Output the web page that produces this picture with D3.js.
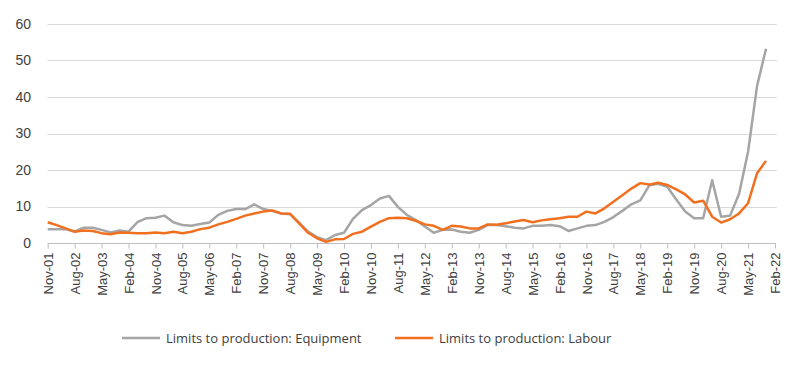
<!DOCTYPE html>
<html><head><meta charset="utf-8">
<script src="https://cdn.jsdelivr.net/npm/d3@7"></script>
<style>body{margin:0;background:#fff;} svg{display:block;}</style>
</head><body>
<svg id="c" width="800" height="368"></svg>
<script>
// Quarterly data, Nov-01 ... Nov-21
const startYear = 2001, startMonth = 10; // Nov (0-based)
const equipment = [3.8,3.8,3.8,3.1,4.2,4.2,3.6,2.9,3.4,3.1,5.7,6.8,6.9,7.5,5.7,4.9,4.7,5.2,5.6,7.7,8.8,9.3,9.3,10.6,9.3,8.8,8.1,7.9,5.6,3.1,1.6,0.8,2.2,2.8,6.6,9.0,10.4,12.2,12.9,9.9,7.7,6.3,4.5,2.8,3.6,3.7,3.1,2.8,3.6,4.9,4.9,4.6,4.2,4.0,4.7,4.7,4.9,4.6,3.3,4.0,4.7,4.9,5.8,7.1,8.8,10.6,11.7,15.8,16.2,15.4,11.9,8.6,6.8,6.8,17.2,7.2,7.5,13.5,25,43,53.2];
const labour = [5.7,4.9,4.0,3.1,3.4,3.3,2.7,2.4,2.9,2.8,2.7,2.7,2.9,2.7,3.1,2.7,3.1,3.8,4.2,5.1,5.8,6.6,7.5,8.1,8.6,8.9,8.1,8.0,5.4,2.8,1.3,0.3,1.0,1.1,2.5,3.1,4.5,5.8,6.8,6.9,6.8,6.1,5.1,4.7,3.6,4.7,4.5,4.0,4.0,5.1,5.0,5.4,5.9,6.3,5.7,6.2,6.5,6.8,7.2,7.2,8.6,8.1,9.5,11.3,13.1,14.9,16.4,16.0,16.5,15.9,14.7,13.3,11.1,11.6,7.2,5.6,6.5,8.1,10.9,19.1,22.5];
const seriesNames = ["Limits to production: Equipment","Limits to production: Labour"];
const yTicks = [0,10,20,30,40,50,60];
const monthNames = ["Jan","Feb","Mar","Apr","May","Jun","Jul","Aug","Sep","Oct","Nov","Dec"];
const nQuarters = 81; // index of Feb-22 tick
const tickIdx = d3.range(0, nQuarters + 1, 3);
function qLabel(i){ const m = startMonth + 3*i; const y = startYear + Math.floor(m/12); return monthNames[m%12] + "-" + String(y%100).padStart(2,"0"); }

const svg = d3.select("#c");
const x = d3.scaleLinear().domain([0, nQuarters]).range([47.7, 775]);
const y = d3.scaleLinear().domain([0, 60]).range([243, 24]);

// gridlines
svg.append("g").selectAll("line").data(yTicks.filter(d=>d>0)).join("line")
  .attr("x1", 47.5).attr("x2", 777).attr("y1", d=>Math.round(y(d))+0.5).attr("y2", d=>Math.round(y(d))+0.5)
  .attr("stroke", "#D9D9D9").attr("stroke-width", 1);

// y axis labels
svg.append("g").selectAll("text").data(yTicks).join("text")
  .attr("x", 31).attr("y", d=>y(d)).attr("dy","0.35em").attr("text-anchor","end")
  .attr("font-family","Liberation Sans, Arial, sans-serif").attr("font-size", 14).attr("fill","#404040")
  .text(d=>d);

// x axis
const xAxis = d3.axisBottom(x).tickValues(tickIdx).tickFormat(qLabel).tickSize(5).tickSizeOuter(0);
const gx = svg.append("g").attr("transform","translate(0,243.5)").call(xAxis);
gx.select(".domain").attr("stroke","#BFBFBF").attr("d", "M47.5,0H776");
gx.selectAll(".tick line").attr("stroke","#BFBFBF");
gx.selectAll(".tick text")
  .attr("font-family","Liberation Sans, Arial, sans-serif").attr("font-size",13).attr("fill","#404040")
  .attr("transform","rotate(-90)").attr("text-anchor","end").attr("x",-9).attr("y",0).attr("dy","0.35em");

// lines
const line = d3.line().x((d,i)=>x(i)).y(d=>y(d));
svg.append("path").datum(equipment).attr("d", line).attr("fill","none")
  .attr("stroke","#A5A5A5").attr("stroke-width",2.5).attr("stroke-linejoin","round");
svg.append("path").datum(labour).attr("d", line).attr("fill","none")
  .attr("stroke","#F07020").attr("stroke-width",2.5).attr("stroke-linejoin","round");

// legend
const legend = [{name:seriesNames[0], color:"#A5A5A5", x:122},{name:seriesNames[1], color:"#F07020", x:395}];
const lg = svg.append("g").selectAll("g").data(legend).join("g").attr("transform", d=>`translate(${d.x},338)`);
lg.append("line").attr("x1",0).attr("x2",38).attr("stroke",d=>d.color).attr("stroke-width",2.5);
lg.append("text").attr("x",44).attr("dy","0.35em").attr("font-family","Open Sans, sans-serif").attr("font-size",13)
  .attr("fill","#404040").text(d=>d.name);
</script>
</body></html>
